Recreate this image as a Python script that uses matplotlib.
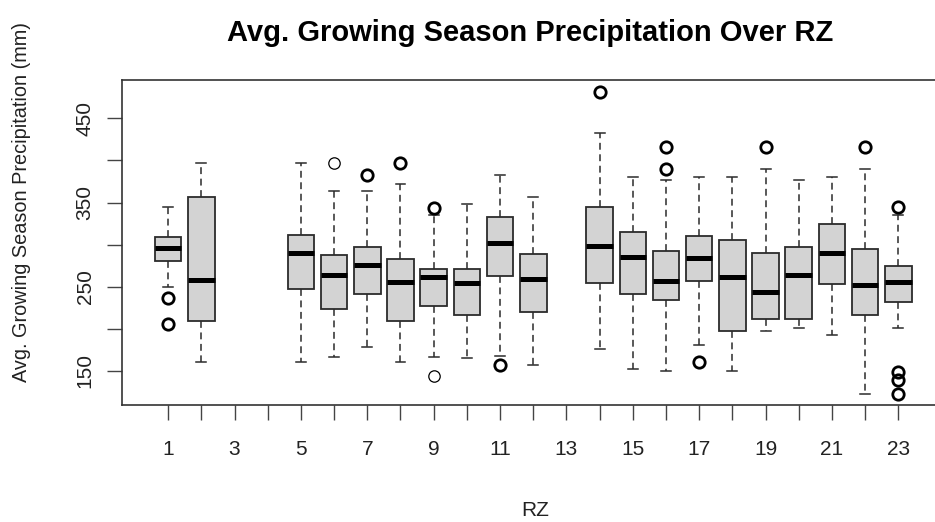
import numpy as np
import matplotlib
matplotlib.use("Agg")
import matplotlib.pyplot as plt

plt.rcParams['font.family'] = ['Liberation Sans', 'DejaVu Sans']

nan = np.nan
rz = list(range(1, 24))
whis_hi = [345, 396.6, nan, nan, 396.6, 364, 364, 371.6, 335.2, 348.6, 383, 356.6, nan,
           432.9, 380, 376.8, 380.3, 380.3, 390.2, 376.4, 380.3, 390.2, 334.8]
q3 = [308.7, 356.2, nan, nan, 311.8, 287.4, 296.9, 283, 270.7, 270.7, 333.2, 288.9, nan,
      345, 315.4, 292.8, 310.3, 305.2, 289.7, 297.6, 324.2, 294.8, 274.7]
med = [296.4, 258, nan, nan, 290.1, 263.6, 275.8, 255.7, 262, 254.8, 301.6, 258.8, nan,
       298.4, 285, 256.5, 284.2, 262, 244.1, 263.6, 290.5, 252.1, 256]
q1 = [280.6, 209.7, nan, nan, 247, 223.2, 241, 209.7, 227.2, 216.9, 263.2, 220, nan,
      254.1, 241.8, 234.3, 257.2, 197.8, 211.4, 211.4, 253.3, 216.9, 231.6]
whis_lo = [249.4, 161, nan, nan, 161, 167, 178.1, 161, 167, 165.4, 167.8, 157.5, nan,
           175.7, 152.8, 150, 180.5, 150, 197.1, 201, 193.1, 122.7, 201.4]

out_rz = [1, 1, 6, 7, 8, 9, 9, 11, 14, 16, 16, 17, 19, 22, 23, 23, 23, 23]
out_val = [237, 205.4, 396.6, 383, 396.6, 343.9, 144, 157.5, 480.9, 415.6, 389.8, 161,
           415.6, 415.6, 345, 149.2, 139.3, 122.7]
out_mult = [2, 2, 1, 2, 2, 2, 1, 2, 2, 2, 2, 2, 2, 2, 2, 2, 2, 2]

yticks = [150, 200, 250, 300, 350, 400, 450]
ytick_labels = ['150', '', '250', '', '350', '', '450']
xtick_labels = [str(v) if v % 2 == 1 else '' for v in rz]

fig = plt.figure(figsize=(9.35, 5.22), dpi=100)
W, H = 935, 522
left_px, right_px, top_px, bot_px = 121.7, 944.8, 80, 405
ax = fig.add_axes([left_px / W, 1 - bot_px / H, (right_px - left_px) / W, (bot_px - top_px) / H])

stats, pos = [], []
for i, g in enumerate(rz):
    if np.isnan(med[i]):
        continue
    stats.append(dict(med=med[i], q1=q1[i], q3=q3[i], whislo=whis_lo[i], whishi=whis_hi[i], fliers=[]))
    pos.append(g)

edge = '#2b2b2b'
ax.bxp(stats, positions=pos, widths=0.8, capwidths=0.3, patch_artist=True, showfliers=False,
       boxprops=dict(facecolor='#d3d3d3', edgecolor=edge, linewidth=1.3),
       medianprops=dict(color='black', linewidth=3.6, solid_capstyle='butt'),
       whiskerprops=dict(color=edge, linewidth=1.1, linestyle=(0, (4.5, 3))),
       capprops=dict(color=edge, linewidth=1.1))

for x, v, m in zip(out_rz, out_val, out_mult):
    ax.plot([x], [v], marker='o', ms=8.2, mfc='none', mec='black',
            mew=2.0 if m > 1 else 0.9, linestyle='none')

ax.set_xlim(-0.4, 24.4)
ax.set_ylim(109.6, 495.5)
ax.set_xticks(rz)
ax.set_xticklabels(xtick_labels, fontsize=15, color='#222222')
ax.set_yticks(yticks)
ax.set_yticklabels(ytick_labels, fontsize=15, color='#222222', rotation=90, va='center')
ax.tick_params(axis='both', length=10.5, width=1.0, color='#444444')
ax.tick_params(axis='x', pad=15)
ax.tick_params(axis='y', pad=9)
for sp in ax.spines.values():
    sp.set_color('#333333')
    sp.set_linewidth(1.2)

fig.text(530 / W, 1 - 33 / H, 'Avg. Growing Season Precipitation Over RZ', ha='center', va='center',
         fontsize=21, fontweight='bold', color='black')
fig.text(535 / W, 1 - 510 / H, 'RZ', ha='center', va='center', fontsize=15, color='#222222')
fig.text(22 / W, 1 - 202 / H, 'Avg. Growing Season Precipitation (mm)', ha='center', va='center',
         rotation=90, fontsize=14.3, color='#222222')

fig.savefig('out.png', dpi=100)
